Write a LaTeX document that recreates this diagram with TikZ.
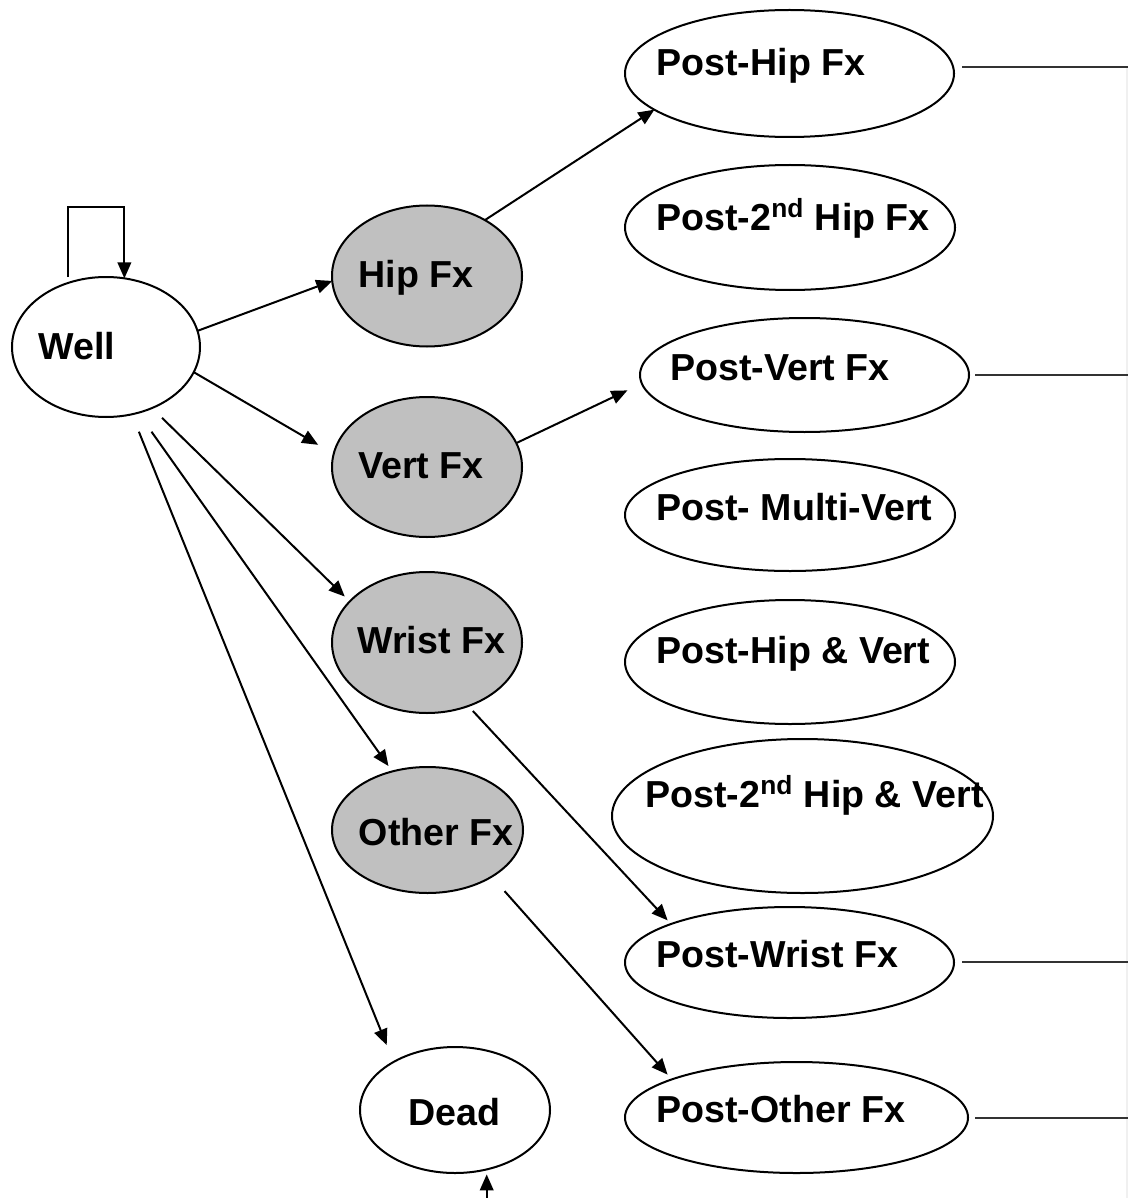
\documentclass[tikz,border=0pt]{standalone}
\usepackage{fontspec}
\setmainfont{Liberation Sans}
\usetikzlibrary{arrows.meta,shapes.geometric}
\definecolor{fxgray}{HTML}{C0C0C0}
\begin{document}
\begin{tikzpicture}[x=0.5pt,y=-0.5pt,
  st/.style={ellipse,draw,line width=1pt,inner sep=0pt,outer sep=0pt,fill=white},
  fx/.style={st,fill=fxgray},
  lbl/.style={anchor=base west,inner sep=0pt,font=\fontsize{18.8pt}{22pt}\selectfont\bfseries},
  arr/.style={line width=1pt,-{Triangle[length=8pt,width=6.8pt]}},
  exitline/.style={line width=0.8pt,draw=black!80}]
\useasboundingbox[fill=white] (0,0) rectangle (1128,1198);

% left column
\node[st,minimum width=94pt,minimum height=70pt] (well) at (106,347) {};
\node[fx,minimum width=95pt,minimum height=70.5pt] (hip) at (427,276) {};
\node[fx,minimum width=95pt,minimum height=70pt] (vert) at (427,467) {};
\node[fx,minimum width=95pt,minimum height=70.5pt] (wrist) at (427,642.5) {};
\node[fx,minimum width=95.5pt,minimum height=63pt] (other) at (427.5,830) {};
\node[st,minimum width=95pt,minimum height=63pt] (dead) at (455,1110) {};

% right column
\node[st,minimum width=164.5pt,minimum height=63.5pt] (posthip) at (789.5,73.5) {};
\node[st,minimum width=165pt,minimum height=62.5pt] (post2hip) at (790,227.5) {};
\node[st,minimum width=164.5pt,minimum height=57pt] (postvert) at (804.5,375) {};
\node[st,minimum width=165pt,minimum height=56pt] (postmulti) at (790,515) {};
\node[st,minimum width=165pt,minimum height=62pt] (posthipvert) at (790,662) {};
\node[st,minimum width=190.5pt,minimum height=77pt] (post2hipvert) at (802.5,816) {};
\node[st,minimum width=164.5pt,minimum height=55.5pt] (postwrist) at (789.5,962.5) {};
\node[st,minimum width=171.5pt,minimum height=55.5pt] (postother) at (796.5,1117.5) {};

% labels
\node[lbl] (wellt) at (38,359) {Well};
\node[lbl] (hipt) at (358,287) {Hip Fx};
\node[lbl] (vertt) at (358,478) {Vert Fx};
\node[lbl] (wristt) at (357,653) {Wrist Fx};
\node[lbl] (othert) at (358.5,845) {Other Fx};
\node[lbl] (deadt) at (408,1125) {Dead};
\node[lbl] (posthipt) at (656,76) {Post-Hip Fx};
\node[lbl] (post2hipt) at (656,230) {Post-2\textsuperscript{nd} Hip Fx};
\node[lbl] (postvertt) at (670,380) {Post-Vert Fx};
\node[lbl] (postmultit) at (656,520) {Post- Multi-Vert};
\node[lbl] (posthipvertt) at (656,663) {Post-Hip \& Vert};
\node[lbl] (post2hipvertt) at (645,807) {Post-2\textsuperscript{nd} Hip \& Vert};
\node[lbl] (postwristt) at (656,967) {Post-Wrist Fx};
\node[lbl] (postothert) at (656,1122) {Post-Other Fx};

% self loop
\coordinate (looptop) at (95,207);
\draw[arr,shorten <=3pt] (well.121) |- (looptop) -| (well.75);

% arrows from Well
\draw[arr] (well.10.5) -- (hip.183.5);
\draw[arr,shorten >=9pt] (well.-16) -- (vert.172);
\draw[arr,shorten <=7pt,shorten >=3.5pt] (well.-53) -- (wrist.152);
\draw[arr,shorten <=11.6pt,shorten >=3.3pt] (well.-64) -- (other.121);
\draw[arr,shorten <=9.4pt,shorten >=9.1pt] (well.-69.5) -- (dead.142);

% arrows to post states
\draw[arr] (hip.44) -- (posthip.195);
\draw[arr,shorten >=8pt] (vert.15) -- (postvert.183);
\draw[arr,shorten <=3.4pt,shorten >=2.5pt] (wrist.-57) -- (postwrist.162);
\draw[arr,shorten <=9.7pt,shorten >=3.2pt] (other.-36) -- (postother.163);

% arrow into Dead from below
\coordinate (deadin) at (486.7,1198);
\draw[arr,shorten >=2.5pt] (deadin) -- (deadin |- dead.-62);

% exit lines on the right
\coordinate (r1) at (1128,67);
\coordinate (r2) at (1128,375);
\coordinate (r3) at (1128,962);
\coordinate (r4) at (1128,1118);
\coordinate (rb) at (1128,1198);
\draw[black!6,line width=1pt] ([xshift=-0.5pt]r1) -- ([xshift=-0.5pt]rb);
\draw[exitline,shorten <=4pt] (posthip.east |- r1) -- (r1);
\draw[exitline,shorten <=3pt] (postvert.east |- r2) -- (r2);
\draw[exitline,shorten <=4pt] (postwrist.east |- r3) -- (r3);
\draw[exitline,shorten <=3.5pt] (postother.east |- r4) -- (r4);
\end{tikzpicture}
\end{document}
